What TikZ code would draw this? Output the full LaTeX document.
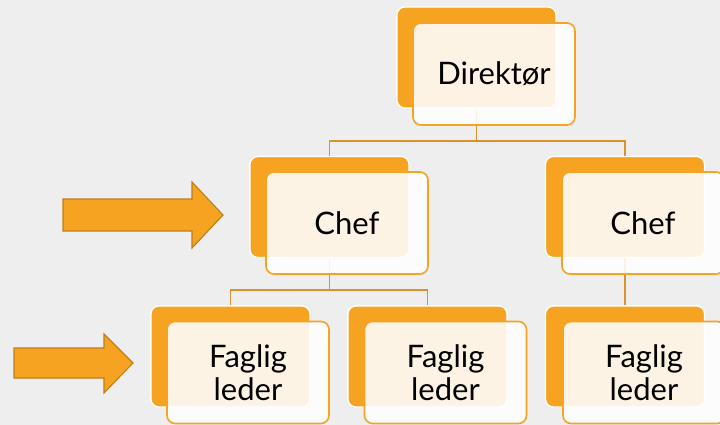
\documentclass[tikz,border=0pt]{standalone}
\usepackage{fontspec}
\setmainfont{Lato}
\definecolor{bg}{HTML}{EEEEEE}
\definecolor{org}{HTML}{F5A321}
\definecolor{lin}{HTML}{D8932A}
\definecolor{arrb}{HTML}{BE7F1B}
\tikzset{
  backbox/.style={draw=white, line width=1.2pt, fill=org, rounded corners=8pt,
    minimum width=159pt, minimum height=101pt, inner sep=0pt},
  frontbox/.style={draw=org, line width=1.6pt, fill=white, fill opacity=0.88, text opacity=1,
    rounded corners=8pt, minimum width=162pt, minimum height=102pt, inner sep=0pt,
    align=center, font=\fontsize{31}{33}\selectfont, text=black},
  conn/.style={draw=lin, line width=1.9pt},
  bigarrow/.style={fill=org, draw=arrb, line width=1.1pt, line join=miter}
}
\begin{document}
\begin{tikzpicture}[x=1pt,y=-1pt]
\useasboundingbox (0,0) rectangle (720,425);
\clip (0,0) rectangle (720,425);
\fill[bg] (0,0) rectangle (720,425);

% back boxes (named for connectors)
\node[backbox] (d0) at (476.5,57.5) {};
\node[backbox] (c10) at (329.5,207) {};
\node[backbox] (c20) at (625,207) {};
\node[backbox] (f10) at (230.5,356.5) {};
\node[backbox] (f20) at (427.5,356.5) {};
\node[backbox] (f30) at (625,356.5) {};

\coordinate (j1) at (476.5,141);
\coordinate (j2) at (329.5,290);

\draw[conn] (d0.south) -- (j1);
\draw[conn] (c10.north) |- (j1) -| (c20.north);
\draw[conn] (c10.south) -- (j2);
\draw[conn] (f10.north) |- (j2) -| (f20.north);
\draw[conn] (c20.south) -- (f30.north);

% redraw back boxes on top of connectors
\node[backbox] at (d0) {};
\node[backbox] at (c10) {};
\node[backbox] at (c20) {};
\node[backbox] at (f10) {};
\node[backbox] at (f20) {};
\node[backbox] at (f30) {};

% front boxes
\node[frontbox] (d) at (494,74) {Direktør};
\node[frontbox] (c1) at (347,223) {Chef};
\node[frontbox] (c2) at (643,223) {Chef};
\node[frontbox] (f1) at (248,372.5) {Faglig\\leder};
\node[frontbox] (f2) at (445.5,372.5) {Faglig\\leder};
\node[frontbox] (f3) at (644,372.5) {Faglig\\leder};

% arrows
\draw[bigarrow] (63,199) -- (192,199) -- (192,182) -- (223,215) -- (192,248) -- (192,231) -- (63,231) -- cycle;
\draw[bigarrow] (14,348) -- (104,348) -- (104,334) -- (133,363) -- (104,393) -- (104,378) -- (14,378) -- cycle;
\end{tikzpicture}
\end{document}
